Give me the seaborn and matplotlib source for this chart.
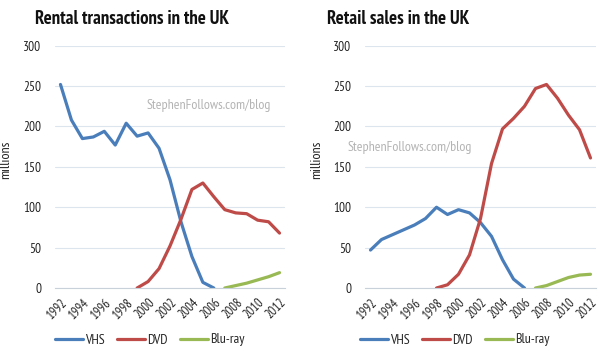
import numpy as np
import pandas as pd
import matplotlib
matplotlib.use("Agg")
from matplotlib import pyplot as plt
import seaborn as sns

# years on the category axis
years = list(range(1992, 2013))

# rental transactions (millions)
rental_vhs_years = list(range(1992, 2007))
rental_vhs = [252, 208, 185, 187, 194, 177, 204, 188, 192, 173, 134, 82, 39, 7, 0]
rental_dvd_years = list(range(1999, 2013))
rental_dvd = [0, 8, 24, 52, 85, 122, 130, 113, 97, 93, 92, 84, 82, 68]
rental_bluray_years = list(range(2007, 2013))
rental_bluray = [0, 3, 6, 10, 14, 19]

# retail sales (millions)
retail_vhs_years = list(range(1992, 2007))
retail_vhs = [47, 60, 66, 72, 78, 86, 100, 91, 97, 93, 81, 64, 35, 11, 0]
retail_dvd_years = list(range(1998, 2013))
retail_dvd = [0, 4, 17, 41, 86, 154, 197, 210, 225, 247, 252, 235, 214, 196, 161]
retail_bluray_years = list(range(2007, 2013))
retail_bluray = [0, 3, 8, 13, 16, 17]

formats = ["VHS", "DVD", "Blu-ray"]
colors = {"VHS": "#4a7ebb", "DVD": "#be4b48", "Blu-ray": "#98b954"}


def build_table(parts):
    records = []
    for fmt, yrs, vals in parts:
        for yr, v in zip(yrs, vals):
            records.append({"Year": yr, "Value": v, "Format": fmt})
    return pd.DataFrame(records)


rental = build_table([("VHS", rental_vhs_years, rental_vhs),
                      ("DVD", rental_dvd_years, rental_dvd),
                      ("Blu-ray", rental_bluray_years, rental_bluray)])
retail = build_table([("VHS", retail_vhs_years, retail_vhs),
                      ("DVD", retail_dvd_years, retail_dvd),
                      ("Blu-ray", retail_bluray_years, retail_bluray)])

sns.set_theme(style="white")
plt.rcParams["font.family"] = ["PT Sans Narrow", "DejaVu Sans"]

fig = plt.figure(figsize=(6.0, 3.54), dpi=100)
ax_left = fig.add_axes([55 / 600, 66 / 354, 230 / 600, 242.3 / 354])
ax_right = fig.add_axes([365 / 600, 66 / 354, 231 / 600, 242.3 / 354])

# axes, data, title, title centre x, watermark centre, legend centre x, ylabel x
panels = [
    (ax_left, rental, "Rental transactions in the UK", 132, (209, 105), 150, -0.187),
    (ax_right, retail, "Retail sales in the UK", 398, (410, 147), 455, -0.182),
]

for ax, table, title, title_x, mark_xy, legend_x, ylab_x in panels:
    sns.lineplot(data=table, x="Year", y="Value", hue="Format", hue_order=formats,
                 palette=colors, linewidth=2.3, ax=ax, legend=False,
                 solid_capstyle="round", solid_joinstyle="round")
    ax.set_xlim(1991.5, 2012.5)
    ax.set_ylim(0, 300)
    ax.set_yticks(range(0, 301, 50))
    ax.set_xticks(years[::2])
    ax.set_xticklabels([str(y) for y in years[::2]], rotation=45, ha="right",
                       rotation_mode="anchor", fontsize=9, color="#222222")
    ax.set_xticks(np.arange(1991.5, 2013, 1), minor=True)
    ax.tick_params(axis="x", which="major", length=0, pad=6)
    ax.tick_params(axis="x", which="minor", length=3, width=0.6, color="#c0c8d4",
                   direction="out")
    ax.tick_params(axis="y", length=0, pad=10, labelsize=9.5, labelcolor="#222222")
    ax.grid(axis="y", color="#dce4ee", linewidth=0.8)
    ax.set_axisbelow(True)
    for side in ["top", "right", "left"]:
        ax.spines[side].set_visible(False)
    ax.spines["bottom"].set_color("#c8d0da")
    ax.spines["bottom"].set_linewidth(0.8)
    ax.set_xlabel("")
    ax.set_ylabel("millions", fontsize=10, color="#222222")
    ax.yaxis.set_label_coords(ylab_x, 0.53)

    fig.text(title_x / 600, 1 - 19 / 354, title, ha="center", va="center",
             fontsize=13.5, fontweight="bold", color="#111111")
    fig.text(mark_xy[0] / 600, 1 - mark_xy[1] / 354, "StephenFollows.com/blog",
             ha="center", va="center", fontsize=10, color="#b4b4b4")

    handles = [plt.Line2D([], [], color=colors[f], linewidth=2.3) for f in formats]
    fig.legend(handles, formats, loc="center", ncol=3, frameon=False,
               bbox_to_anchor=(legend_x / 600, 1 - 340 / 354), fontsize=10,
               handlelength=2.0, handletextpad=0.15, columnspacing=0.9)

fig.savefig("out.png", dpi=100)
